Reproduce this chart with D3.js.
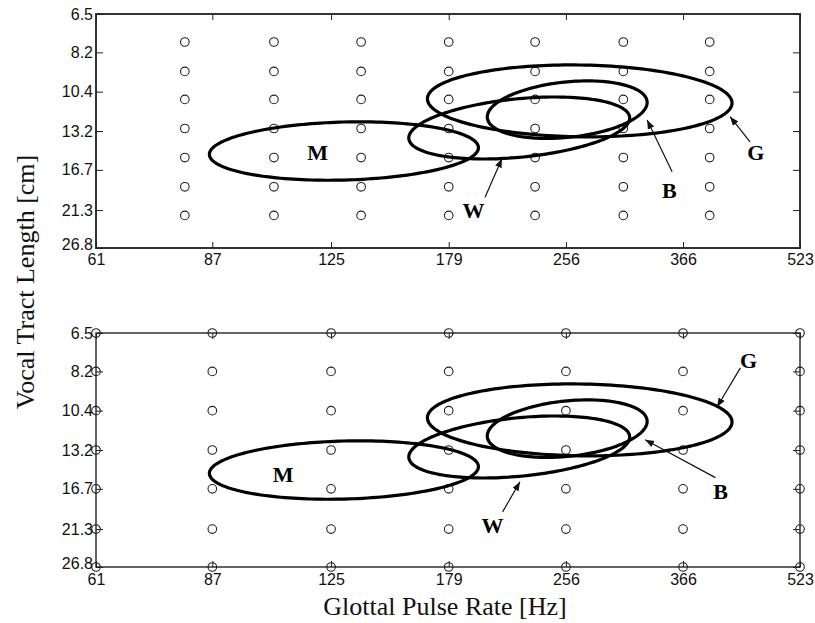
<!DOCTYPE html>
<html>
<head>
<meta charset="utf-8">
<script src="https://cdn.jsdelivr.net/npm/d3@7"></script>
<style>
  body { margin: 0; background: #fff; }
  svg { display: block; }
</style>
</head>
<body>
<svg id="chart"></svg>
<script>
// tick values on both axes (log spaced)
const gprTicks = [61, 87, 125, 179, 256, 366, 523];
const vtlTicks = [6.5, 8.2, 10.4, 13.2, 16.7, 21.3, 26.8];

// stimulus grid of the upper panel (between the ticks)
const topGridGpr = [80, 105, 137, 179, 233, 305, 397];
const topGridVtl = [7.7, 9.2, 10.9, 13.0, 15.5, 18.5, 22.0];

// ellipses: centre, rightmost point, and top of the vertical chord through the centre
const ellipseNames = ["M", "W", "B", "G"];
const ellipseGpr = [130, 222, 257, 267];
const ellipseVtl = [14.9, 12.96, 11.6, 11.0];
const ellipseEndGpr = [196, 311, 328, 425];
const ellipseEndVtl = [14.6, 12.2, 11.1, 11.14];
const ellipseTopVtl = [12.5, 10.85, 9.8, 8.85];

// letters and arrows, upper panel
const topLabelGpr = [120, 193, 351, 457];
const topLabelVtl = [15.0, 21.35, 18.9, 15.0];
const topArrowFrom = [null, [200, 19.7], [354, 16.9], [449, 14.1]];
const topArrowTo = [null, [210.6, 15.6], [328, 12.35], [422.5, 12.1]];

// letters and arrows, lower panel
const botLabelGpr = [108, 204.6, 410.5, 447];
const botLabelVtl = [15.3, 20.85, 16.9, 7.68];
const botArrowFrom = [null, [211, 19.2], [404, 15.6], [436, 8.03]];
const botArrowTo = [null, [222.5, 16.0], [326, 12.4], [406, 10.17]];


const margin = { left: 96 },
    width = 704,
    height = 234;

const svg = d3.select("#chart")
    .attr("width", 815)
    .attr("height", 623);

svg.append("defs")
    .append("marker")
    .attr("id", "head")
    .attr("markerUnits", "userSpaceOnUse")
    .attr("markerWidth", 10)
    .attr("markerHeight", 8)
    .attr("refX", 9)
    .attr("refY", 3.5)
    .attr("orient", "auto")
    .append("path")
    .attr("d", "M0,0 L9,3.5 L0,7 Z")
    .attr("fill", "#111");

const x = d3.scaleLog().domain([61, 523]).range([0, width]);
const y = d3.scaleLog().domain([6.5, 26.8]).range([0, height]);

// ellipse outline, built in log space so it stays an ellipse on the log axes
function ellipsePoints(i) {
    const cx = Math.log(ellipseGpr[i]), cy = Math.log(ellipseVtl[i]);
    const ux = Math.log(ellipseEndGpr[i]) - cx, uy = Math.log(ellipseEndVtl[i]) - cy;
    const vy = Math.log(ellipseTopVtl[i]) - cy;
    return d3.range(0, 2 * Math.PI, Math.PI / 90).map(function (t) {
        return [x(Math.exp(cx + ux * Math.cos(t))),
                y(Math.exp(cy + uy * Math.cos(t) + vy * Math.sin(t)))];
    });
}

function drawPanel(top, opts) {
    const g = svg.append("g")
        .attr("transform", `translate(${margin.left}, ${top})`);

    // grid of circles
    const pts = [];
    opts.gridGpr.forEach(function (f) {
        opts.gridVtl.forEach(function (v) { pts.push([f, v]); });
    });
    g.selectAll("circle.pt")
        .data(pts)
        .enter()
        .append("circle")
        .attr("class", "pt")
        .attr("cx", d => x(d[0]))
        .attr("cy", d => y(d[1]))
        .attr("r", 4.3)
        .attr("fill", "none")
        .attr("stroke", "#222")
        .attr("stroke-width", 1.1);

    // frame
    g.append("rect")
        .attr("width", width)
        .attr("height", height)
        .attr("fill", "none")
        .attr("stroke", opts.frameColor)
        .attr("stroke-width", opts.frameWidth);

    // axes with inward ticks
    const xAxis = g.append("g")
        .attr("transform", `translate(0, ${height})`)
        .call(d3.axisBottom(x).tickValues(gprTicks).tickFormat(d => d)
            .tickSizeInner(-6).tickSizeOuter(0).tickPadding(opts.xPad));
    const xTop = g.append("g")
        .call(d3.axisTop(x).tickValues(gprTicks).tickFormat("")
            .tickSizeInner(-6).tickSizeOuter(0));
    const yAxis = g.append("g")
        .call(d3.axisLeft(y).tickValues(vtlTicks).tickFormat(d => d)
            .tickSizeInner(-7).tickSizeOuter(0).tickPadding(3));
    const yRight = g.append("g")
        .attr("transform", `translate(${width}, 0)`)
        .call(d3.axisRight(y).tickValues(vtlTicks).tickFormat("")
            .tickSizeInner(-7).tickSizeOuter(0));

    [xAxis, xTop, yAxis, yRight].forEach(function (a) {
        a.select(".domain").remove();
        a.selectAll(".tick line").attr("stroke", "#222").attr("stroke-width", 1);
        a.selectAll("text")
            .attr("fill", "#111")
            .attr("font-family", "'Liberation Sans', Arial, sans-serif")
            .attr("font-size", 16);
    });
    // lowest y label sits a bit higher so it clears the first x label
    yAxis.selectAll(".tick text")
        .filter(d => d === vtlTicks[vtlTicks.length - 1])
        .attr("dy", "0.1em");

    // ellipses
    const line = d3.line().curve(d3.curveLinearClosed);
    g.selectAll("path.ell")
        .data(ellipseNames)
        .enter()
        .append("path")
        .attr("class", "ell")
        .attr("d", (d, i) => line(ellipsePoints(i)))
        .attr("fill", "none")
        .attr("stroke", "#000")
        .attr("stroke-width", 3.2);

    // arrows
    ellipseNames.forEach(function (n, i) {
        if (!opts.arrowFrom[i]) return;
        g.append("line")
            .attr("x1", x(opts.arrowFrom[i][0]))
            .attr("y1", y(opts.arrowFrom[i][1]))
            .attr("x2", x(opts.arrowTo[i][0]))
            .attr("y2", y(opts.arrowTo[i][1]))
            .attr("stroke", "#111")
            .attr("stroke-width", 1.2)
            .attr("marker-end", "url(#head)");
    });

    // letters
    g.selectAll("text.lab")
        .data(ellipseNames)
        .enter()
        .append("text")
        .attr("class", "lab")
        .attr("x", (d, i) => x(opts.labelGpr[i]))
        .attr("y", (d, i) => y(opts.labelVtl[i]))
        .attr("dy", "0.35em")
        .attr("text-anchor", "middle")
        .attr("font-family", "'Liberation Serif', 'Times New Roman', serif")
        .attr("font-weight", "bold")
        .attr("font-size", 22)
        .text(d => d);
}

drawPanel(14, {
    gridGpr: topGridGpr, gridVtl: topGridVtl,
    labelGpr: topLabelGpr, labelVtl: topLabelVtl,
    arrowFrom: topArrowFrom, arrowTo: topArrowTo,
    frameColor: "#333", frameWidth: 2, xPad: 6
});

drawPanel(333, {
    gridGpr: gprTicks, gridVtl: vtlTicks,
    labelGpr: botLabelGpr, labelVtl: botLabelVtl,
    arrowFrom: botArrowFrom, arrowTo: botArrowTo,
    frameColor: "#111", frameWidth: 1.3, xPad: 7
});

// axis titles
svg.append("text")
    .attr("transform", "translate(34, 282) rotate(-90)")
    .attr("text-anchor", "middle")
    .attr("font-family", "'Liberation Serif', 'Times New Roman', serif")
    .attr("font-size", 26)
    .attr("fill", "#111")
    .text("Vocal Tract Length [cm]");

svg.append("text")
    .attr("x", 445)
    .attr("y", 615)
    .attr("text-anchor", "middle")
    .attr("font-family", "'Liberation Serif', 'Times New Roman', serif")
    .attr("font-size", 26)
    .attr("fill", "#111")
    .text("Glottal Pulse Rate [Hz]");
</script>
</body>
</html>
